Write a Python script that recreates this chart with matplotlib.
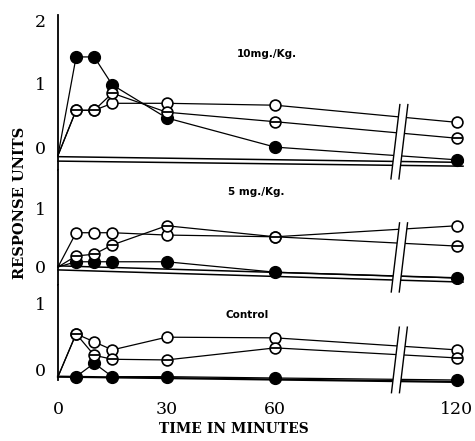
"""Response units vs time, three dose panels (10 mg/Kg, 5 mg/Kg, control)."""
import numpy as np
import matplotlib
matplotlib.use("Agg")
import matplotlib.pyplot as plt
from matplotlib.patches import Polygon
from matplotlib.lines import Line2D

# ---- data ----
times = [0, 5, 10, 15, 30, 60, 120]

panel_labels = ["10mg./Kg.", "5 mg./Kg.", "Control"]

filled_10 = [-0.13, 1.42, 1.42, 0.98, 0.46, 0.00, -0.20]
open_10 = [-0.13, 0.58, 0.58, 0.69, 0.69, 0.66, 0.39]
theta_10 = [-0.13, 0.58, 0.58, 0.85, 0.55, 0.40, 0.14]

filled_5 = [0.00, 0.09, 0.09, 0.09, 0.09, -0.09, -0.19]
open_5 = [0.00, 0.59, 0.59, 0.59, 0.55, 0.52, 0.71]
theta_5 = [0.00, 0.19, 0.22, 0.38, 0.71, 0.52, 0.36]

filled_c = [-0.10, -0.10, 0.10, -0.10, -0.10, -0.12, -0.15]
open_c = [-0.10, 0.54, 0.42, 0.30, 0.49, 0.48, 0.30]
theta_c = [-0.10, 0.54, 0.22, 0.16, 0.15, 0.33, 0.18]

x_ticks = [0, 30, 60, 120]

# ---- layout ----
W, H = 475, 441
K = 0.837          # compression of the axis after 60 min (broken axis)
BREAK_T = 101.0


def fwd(t):
    t = np.asarray(t, dtype=float)
    return np.where(t <= 60, t, 60 + (t - 60) * K)


def inv(p):
    p = np.asarray(p, dtype=float)
    return np.where(p <= 60, p, 60 + (p - 60) / K)


# axes in pixel terms: (top_px, bottom_px, ymin, ymax, yticks)
panels = [
    (15, 170, -0.36, 2.08, [0, 1, 2]),
    (170, 285, -0.31, 1.67, [0, 1]),
    (285, 380, -0.15, 1.27, [0, 1]),
]
baselines = [
    [(-0.15, -0.24, 1.1), (-0.22, -0.30, 1.1)],
    [(0.02, -0.19, 1.1), (-0.05, -0.26, 1.1)],
    [(-0.10, -0.18, 1.6)],
]
break_span = [(0.67, -0.50), (0.76, -0.43), (0.64, -0.34)]
label_pos = [(237, 54), (228, 192), (225, 315)]

series = [
    (filled_10, open_10, theta_10),
    (filled_5, open_5, theta_5),
    (filled_c, open_c, theta_c),
]

fig = plt.figure(figsize=(W / 100, H / 100), dpi=100)
left = 58 / W
width = (470 - 58) / W

axes = []
for i, (top, bot, y0, y1, yt) in enumerate(panels):
    rect = [left, 1 - bot / H, width, (bot - top) / H]
    ax = fig.add_axes(rect, sharex=axes[0] if axes else None)
    axes.append(ax)
    ax.set_xscale("function", functions=(fwd, inv))
    ax.set_xlim(0, 124.3)
    ax.set_ylim(y0, y1)
    for s in ["top", "right", "bottom"]:
        ax.spines[s].set_visible(False)
    ax.spines["left"].set_linewidth(1.3)
    ax.set_yticks(yt)
    ax.set_yticklabels([str(v) for v in yt], family="DejaVu Serif",
                       fontsize=12.5)
    ax.tick_params(axis="y", length=0, pad=9)
    ax.tick_params(axis="x", length=0, labelbottom=False)

    for ya, yb, lw in baselines[i]:
        ax.plot([0, 122], [ya, yb], color="black", lw=lw, clip_on=False)

    filled, opn, theta = series[i]
    # connecting lines (start at the origin, which carries no symbol)
    for ys in (filled, opn, theta):
        ax.plot(times, ys, color="black", lw=0.9, clip_on=False, zorder=2)
    ax.plot(times[1:], filled[1:], ls="none", marker="o", ms=8.5,
            mfc="black", mec="black", clip_on=False, zorder=3)
    ax.plot(times[1:], opn[1:], ls="none", marker="o", ms=7.8,
            mfc="white", mec="black", mew=1.2, clip_on=False, zorder=3)
    ax.plot(times[1:], theta[1:], ls="none", marker="o", ms=7.8,
            mfc="white", mec="black", mew=1.2, clip_on=False, zorder=4)
    ax.plot(times[1:], theta[1:], ls="none", marker="_", ms=7.8, mew=1.3,
            color="black", clip_on=False, zorder=5)

    fig.text(label_pos[i][0] / W, 1 - label_pos[i][1] / H, panel_labels[i],
             fontsize=7.5, fontweight="bold", va="center", ha="left")

bottom_ax = axes[-1]
bottom_ax.set_xticks(x_ticks)
bottom_ax.set_xticklabels([str(v) for v in x_ticks], family="DejaVu Serif",
                          fontsize=12.5)
bottom_ax.tick_params(axis="x", length=0, pad=15, labelbottom=True)

fig.text(234 / W, 1 - 429 / H, "TIME IN MINUTES", family="DejaVu Serif",
         fontweight="bold", fontsize=10, ha="center", va="center")
fig.text(20 / W, 1 - 203 / H, "RESPONSE UNITS", family="DejaVu Serif",
         fontweight="bold", fontsize=10.5, ha="center", va="center",
         rotation=90)

# break marks (white gap between two slanted strokes)
to_fig = fig.transFigure.inverted()
for ax, (yt_, yb_) in zip(axes, break_span):
    xc, ytp = ax.transData.transform((BREAK_T, yt_))
    _, ybp = ax.transData.transform((BREAK_T, yb_))
    dx = (ytp - ybp) * 0.12
    gap = 8
    pts = [(xc + dx / 2 - gap / 2, ytp), (xc + dx / 2 + gap / 2, ytp),
           (xc - dx / 2 + gap / 2, ybp), (xc - dx / 2 - gap / 2, ybp)]
    pts = to_fig.transform(pts)
    fig.add_artist(Polygon(pts, closed=True, facecolor="white",
                           edgecolor="none", transform=fig.transFigure,
                           zorder=5))
    for a, b in [(0, 3), (1, 2)]:
        fig.add_artist(Line2D([pts[a][0], pts[b][0]], [pts[a][1], pts[b][1]],
                              color="black", lw=1.0,
                              transform=fig.transFigure, zorder=6))

fig.savefig("out.png", dpi=100)
